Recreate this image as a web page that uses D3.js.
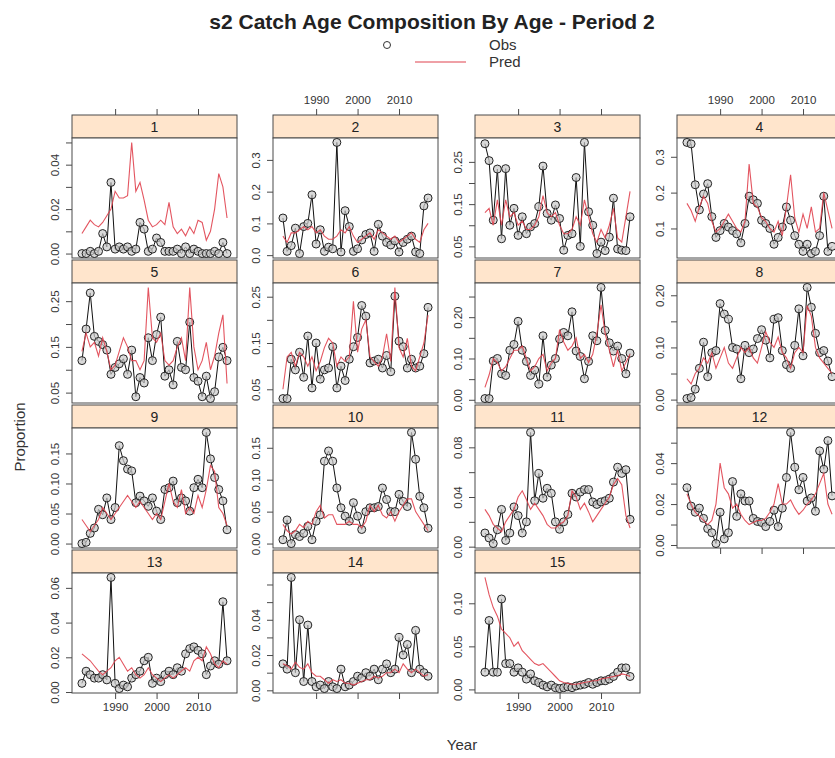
<!DOCTYPE html>
<html><head><meta charset="utf-8">
<script src="https://cdn.jsdelivr.net/npm/d3@7/dist/d3.min.js"></script>
<style>body{margin:0;background:#fff}svg{display:block;font-family:"Liberation Sans",Arial,sans-serif}</style>
</head><body><svg id="c" width="835" height="758"></svg>
<script>
const years = [1982,1983,1984,1985,1986,1987,1988,1989,1990,1991,1992,1993,1994,1995,1996,1997,1998,1999,2000,2001,2002,2003,2004,2005,2006,2007,2008,2009,2010,2011,2012,2013,2014,2015,2016,2017];
const ages = ["1","2","3","4","5","6","7","8","9","10","11","12","13","14","15"];
const xTicks = [1990, 2000, 2010];
const xLabels = ["1990", "2000", "2010"];

const obs1 = [0.000,0.000,0.001,0.000,0.001,0.009,0.003,0.032,0.002,0.003,0.002,0.003,0.001,0.002,0.014,0.011,0.001,0.002,0.007,0.005,0.001,0.001,0.001,0.002,0.000,0.003,0.000,0.002,0.001,0.000,0.000,0.000,0.001,0.000,0.005,0.000];
const pred1 = [0.009,0.012,0.015,0.013,0.012,0.014,0.017,0.020,0.028,0.025,0.025,0.026,0.050,0.028,0.032,0.024,0.015,0.012,0.013,0.015,0.013,0.023,0.012,0.009,0.011,0.008,0.012,0.009,0.015,0.014,0.006,0.010,0.020,0.036,0.030,0.016];
const obs2 = [0.117,0.012,0.030,0.085,0.005,0.090,0.100,0.190,0.035,0.080,0.012,0.025,0.020,0.355,0.010,0.140,0.090,0.012,0.020,0.048,0.065,0.070,0.012,0.097,0.060,0.040,0.032,0.045,0.010,0.040,0.050,0.060,0.010,0.005,0.155,0.180];
const pred2 = [0.06,0.04,0.07,0.07,0.08,0.09,0.08,0.09,0.07,0.08,0.06,0.05,0.05,0.06,0.08,0.07,0.09,0.06,0.04,0.05,0.06,0.07,0.05,0.08,0.07,0.06,0.05,0.06,0.04,0.05,0.06,0.07,0.05,0.04,0.08,0.10];
const obs3 = [0.293,0.253,0.112,0.233,0.068,0.234,0.100,0.140,0.076,0.120,0.080,0.096,0.104,0.144,0.240,0.128,0.112,0.148,0.116,0.041,0.076,0.080,0.213,0.050,0.296,0.132,0.100,0.033,0.060,0.040,0.072,0.164,0.044,0.041,0.040,0.120];
const pred3 = [0.13,0.14,0.10,0.16,0.10,0.16,0.12,0.13,0.10,0.11,0.09,0.09,0.10,0.12,0.17,0.13,0.12,0.13,0.10,0.08,0.08,0.09,0.12,0.10,0.16,0.12,0.08,0.06,0.09,0.07,0.10,0.14,0.07,0.06,0.12,0.18];
const obs4 = [0.340,0.336,0.222,0.152,0.196,0.225,0.133,0.075,0.094,0.114,0.104,0.094,0.085,0.060,0.114,0.190,0.180,0.170,0.123,0.114,0.100,0.056,0.075,0.104,0.160,0.123,0.080,0.056,0.036,0.056,0.030,0.036,0.080,0.190,0.036,0.050];
const pred4 = [0.17,0.15,0.12,0.16,0.19,0.17,0.12,0.09,0.10,0.12,0.14,0.12,0.10,0.09,0.12,0.28,0.17,0.16,0.13,0.12,0.10,0.09,0.12,0.08,0.16,0.25,0.13,0.09,0.14,0.10,0.16,0.09,0.10,0.20,0.15,0.10];
const obs5 = [0.120,0.189,0.268,0.173,0.162,0.155,0.143,0.090,0.105,0.113,0.124,0.090,0.143,0.041,0.083,0.071,0.170,0.120,0.177,0.215,0.086,0.100,0.067,0.162,0.105,0.100,0.204,0.083,0.075,0.041,0.086,0.037,0.052,0.128,0.149,0.120];
const pred5 = [0.14,0.18,0.15,0.16,0.13,0.17,0.14,0.10,0.11,0.14,0.17,0.15,0.12,0.12,0.10,0.12,0.28,0.17,0.16,0.18,0.12,0.11,0.12,0.15,0.17,0.12,0.28,0.15,0.10,0.12,0.16,0.10,0.13,0.18,0.22,0.07];
const obs6 = [0.030,0.030,0.115,0.092,0.130,0.076,0.165,0.053,0.150,0.072,0.092,0.096,0.142,0.053,0.100,0.069,0.115,0.142,0.162,0.231,0.208,0.107,0.111,0.115,0.096,0.123,0.088,0.251,0.154,0.142,0.096,0.115,0.096,0.100,0.127,0.227];
const pred6 = [0.05,0.12,0.13,0.10,0.13,0.12,0.10,0.12,0.09,0.11,0.14,0.16,0.15,0.10,0.12,0.11,0.12,0.24,0.13,0.18,0.20,0.12,0.11,0.10,0.12,0.17,0.11,0.27,0.14,0.12,0.16,0.10,0.09,0.12,0.15,0.21];
const obs7 = [0.003,0.003,0.094,0.100,0.063,0.059,0.120,0.134,0.190,0.120,0.093,0.059,0.072,0.038,0.155,0.055,0.084,0.100,0.147,0.163,0.155,0.213,0.118,0.105,0.051,0.093,0.155,0.143,0.272,0.168,0.138,0.118,0.130,0.100,0.063,0.113];
const pred7 = [0.03,0.06,0.10,0.09,0.07,0.08,0.10,0.12,0.12,0.13,0.10,0.07,0.08,0.10,0.11,0.07,0.09,0.10,0.17,0.14,0.12,0.13,0.15,0.10,0.11,0.09,0.11,0.16,0.23,0.16,0.12,0.08,0.12,0.07,0.09,0.11];
const obs8 = [0.002,0.004,0.020,0.060,0.110,0.044,0.090,0.094,0.184,0.164,0.154,0.100,0.097,0.040,0.104,0.090,0.097,0.117,0.134,0.114,0.080,0.154,0.157,0.094,0.067,0.060,0.104,0.174,0.084,0.215,0.177,0.127,0.090,0.094,0.074,0.044];
const pred8 = [0.04,0.03,0.05,0.06,0.08,0.07,0.09,0.06,0.08,0.10,0.07,0.06,0.08,0.10,0.09,0.10,0.08,0.07,0.10,0.13,0.11,0.10,0.12,0.09,0.08,0.06,0.09,0.10,0.09,0.18,0.16,0.10,0.08,0.07,0.06,0.05];
const obs9 = [0.000,0.002,0.017,0.026,0.057,0.048,0.076,0.040,0.060,0.163,0.138,0.124,0.121,0.068,0.079,0.071,0.062,0.076,0.054,0.040,0.090,0.093,0.104,0.068,0.076,0.071,0.054,0.093,0.107,0.093,0.185,0.141,0.110,0.090,0.071,0.023];
const pred9 = [0.04,0.03,0.02,0.03,0.04,0.06,0.05,0.04,0.05,0.06,0.07,0.08,0.07,0.06,0.07,0.06,0.05,0.04,0.05,0.04,0.07,0.10,0.07,0.06,0.09,0.05,0.06,0.05,0.08,0.06,0.09,0.13,0.12,0.06,0.05,0.03];
const obs10 = [0.006,0.037,0.000,0.014,0.011,0.016,0.027,0.006,0.035,0.045,0.129,0.145,0.129,0.087,0.056,0.043,0.035,0.064,0.043,0.022,0.050,0.056,0.056,0.058,0.087,0.069,0.050,0.050,0.077,0.066,0.058,0.174,0.132,0.074,0.056,0.024];
const pred10 = [0.03,0.02,0.015,0.02,0.03,0.025,0.035,0.03,0.05,0.06,0.04,0.045,0.045,0.03,0.03,0.03,0.035,0.03,0.03,0.025,0.035,0.06,0.05,0.06,0.045,0.04,0.05,0.035,0.05,0.06,0.07,0.07,0.05,0.04,0.03,0.02];
const obs11 = [0.011,0.007,0.0025,0.0136,0.030,0.005,0.011,0.032,0.025,0.011,0.020,0.092,0.037,0.059,0.039,0.047,0.043,0.020,0.014,0.020,0.026,0.043,0.040,0.044,0.046,0.046,0.036,0.034,0.036,0.037,0.039,0.052,0.064,0.059,0.062,0.022];
const pred11 = [0.03,0.025,0.018,0.015,0.012,0.02,0.025,0.03,0.04,0.045,0.038,0.03,0.035,0.03,0.025,0.018,0.015,0.015,0.018,0.02,0.025,0.045,0.04,0.03,0.035,0.028,0.02,0.025,0.03,0.035,0.04,0.05,0.055,0.05,0.025,0.015];
const obs12 = [0.028,0.019,0.016,0.018,0.013,0.008,0.006,0.0007,0.016,0.003,0.006,0.031,0.014,0.025,0.0215,0.0215,0.013,0.0115,0.011,0.009,0.0115,0.017,0.009,0.018,0.033,0.055,0.038,0.027,0.033,0.0215,0.023,0.0165,0.046,0.037,0.051,0.024];
const pred12 = [0.025,0.02,0.016,0.014,0.012,0.010,0.012,0.02,0.04,0.028,0.025,0.018,0.02,0.015,0.012,0.01,0.011,0.012,0.012,0.013,0.016,0.02,0.03,0.02,0.02,0.022,0.018,0.015,0.017,0.02,0.022,0.025,0.03,0.035,0.02,0.015];
const obs13 = [0.005,0.012,0.010,0.008,0.008,0.010,0.007,0.066,0.005,0.002,0.004,0.003,0.008,0.010,0.012,0.018,0.020,0.005,0.008,0.006,0.010,0.012,0.010,0.014,0.012,0.022,0.025,0.026,0.024,0.022,0.010,0.015,0.018,0.016,0.052,0.018];
const pred13 = [0.022,0.020,0.018,0.015,0.012,0.010,0.012,0.014,0.018,0.020,0.016,0.012,0.014,0.010,0.008,0.010,0.014,0.010,0.008,0.006,0.008,0.010,0.008,0.010,0.012,0.014,0.012,0.018,0.020,0.018,0.026,0.022,0.016,0.014,0.018,0.016];
const obs14 = [0.015,0.012,0.064,0.010,0.040,0.005,0.037,0.005,0.002,0.003,0.001,0.005,0.002,0.001,0.012,0.002,0.003,0.005,0.008,0.007,0.010,0.008,0.012,0.006,0.012,0.015,0.010,0.012,0.030,0.020,0.026,0.010,0.034,0.012,0.010,0.008];
const pred14 = [0.015,0.014,0.012,0.016,0.013,0.012,0.015,0.010,0.008,0.008,0.006,0.004,0.006,0.005,0.006,0.004,0.004,0.003,0.004,0.005,0.006,0.006,0.008,0.007,0.008,0.010,0.010,0.012,0.010,0.015,0.012,0.010,0.012,0.010,0.008,0.009];
const obs15 = [0.020,0.080,0.020,0.020,0.105,0.030,0.030,0.020,0.025,0.020,0.012,0.018,0.010,0.008,0.005,0.003,0.005,0.002,0.001,0.002,0.003,0.002,0.004,0.005,0.006,0.008,0.006,0.008,0.010,0.010,0.012,0.015,0.020,0.025,0.025,0.015];
const pred15 = [0.130,0.110,0.095,0.085,0.070,0.065,0.060,0.050,0.055,0.045,0.040,0.035,0.030,0.028,0.030,0.025,0.020,0.015,0.010,0.008,0.007,0.006,0.006,0.007,0.008,0.009,0.010,0.010,0.012,0.013,0.014,0.015,0.016,0.018,0.017,0.015];

const yTicks = [
  [0,0.01,0.02,0.03,0.04,0.05],
  [0,0.1,0.2,0.3],
  [0.05,0.10,0.15,0.20,0.25],
  [0.1,0.2,0.3],
  [0.05,0.10,0.15,0.20,0.25],
  [0.05,0.10,0.15,0.20,0.25],
  [0,0.05,0.10,0.15,0.20,0.25],
  [0,0.05,0.10,0.15,0.20],
  [0,0.05,0.10,0.15],
  [0,0.05,0.10,0.15],
  [0,0.02,0.04,0.06,0.08],
  [0,0.01,0.02,0.03,0.04,0.05],
  [0,0.02,0.04,0.06],
  [0,0.01,0.02,0.03,0.04,0.05,0.06],
  [0,0.05,0.10]
];
const yLabels = [
  ["0.00","","0.02","","0.04",""],
  ["0.0","0.1","0.2","0.3"],
  ["0.05","","0.15","","0.25"],
  ["0.1","0.2","0.3"],
  ["0.05","","0.15","","0.25"],
  ["0.05","","0.15","","0.25"],
  ["0.00","","0.10","","0.20",""],
  ["0.00","","0.10","","0.20"],
  ["0.00","0.05","0.10","0.15"],
  ["0.00","0.05","0.10","0.15"],
  ["0.00","","0.04","","0.08"],
  ["0.00","","0.02","","0.04",""],
  ["0.00","0.02","0.04","0.06"],
  ["0.00","","0.02","","0.04","",""],
  ["0.00","0.05","0.10"]
];

const obsAll = [obs1,obs2,obs3,obs4,obs5,obs6,obs7,obs8,obs9,obs10,obs11,obs12,obs13,obs14,obs15];
const predAll = [pred1,pred2,pred3,pred4,pred5,pred6,pred7,pred8,pred9,pred10,pred11,pred12,pred13,pred14,pred15];

// layout
const colLeft = [72, 273, 475, 677];
const rowTop = [115, 260, 405, 550];
const PW = 165, SH = 23, PH = 120;
const nCols = 4;
const xDomain = [1979.6, 2019.4];

const svg = d3.select("#c");
const defs = svg.append("defs");
const PRED_COL = "#e0424f";
const FRAME = "#4a4a4a";
const FONT = "'Liberation Sans',Arial,sans-serif";

const x = d3.scaleLinear().domain(xDomain).range([0, PW]);

ages.forEach((age, i) => {
  const col = i % nCols, row = Math.floor(i / nCols);
  const g = svg.append("g").attr("transform", `translate(${colLeft[col]},${rowTop[row]})`);
  const obs = obsAll[i], pred = predAll[i];
  const ext = d3.extent(obs.concat(pred));
  const pad = (ext[1] - ext[0]) * 0.04;
  const y = d3.scaleLinear().domain([ext[0] - pad, ext[1] + pad]).range([SH + PH, SH]);

  const cid = "clip" + i;
  defs.append("clipPath").attr("id", cid).append("rect").attr("x", 0).attr("y", SH).attr("width", PW).attr("height", PH);

  g.append("rect").attr("x", 0).attr("y", 0).attr("width", PW).attr("height", SH)
    .attr("fill", "#ffe5cc").attr("stroke", FRAME).attr("stroke-width", 1);
  g.append("text").attr("x", PW / 2).attr("y", SH / 2 + 5).attr("text-anchor", "middle")
    .attr("font-size", 14).attr("fill", "#222").text(age);

  g.append("rect").attr("x", 0).attr("y", SH).attr("width", PW).attr("height", PH)
    .attr("fill", "#fff").attr("stroke", FRAME).attr("stroke-width", 1);

  const plot = g.append("g").attr("clip-path", `url(#${cid})`);
  const pts = years.map((yr, k) => [yr, obs[k]]);
  const ppts = years.map((yr, k) => [yr, pred[k]]);
  const line = d3.line().x(d => x(d[0])).y(d => y(d[1]));
  plot.append("path").attr("d", line(pts)).attr("fill", "none").attr("stroke", "#111").attr("stroke-width", 1);
  plot.selectAll("circle").data(pts).join("circle")
    .attr("cx", d => x(d[0])).attr("cy", d => y(d[1])).attr("r", 4)
    .attr("fill", "#c9c9c9").attr("fill-opacity", 0.7).attr("stroke", "#222").attr("stroke-width", 1);
  plot.append("path").attr("d", line(ppts)).attr("fill", "none").attr("stroke", PRED_COL).attr("stroke-width", 1.1).attr("stroke-opacity", 0.9);

  const labs = yLabels[i];
  const ya = g.append("g")
    .call(d3.axisLeft(y).tickValues(yTicks[i]).tickSize(6).tickFormat((d, k) => labs[k]));
  ya.select(".domain").remove();
  ya.selectAll(".tick line").attr("stroke", FRAME);
  ya.selectAll(".tick text")
    .attr("x", null).attr("dy", null).attr("y", null)
    .attr("text-anchor", "middle")
    .attr("transform", "translate(-13,0) rotate(-90)")
    .attr("font-size", 11.5).attr("fill", "#333").attr("font-family", FONT);

  if (row === 0) {
    const xt = g.append("g").call(d3.axisTop(x).tickValues(xTicks).tickSize(6)
      .tickFormat((d, k) => (col % 2 === 1 ? xLabels[k] : "")));
    xt.select(".domain").remove();
    xt.selectAll(".tick line").attr("stroke", FRAME);
    xt.selectAll(".tick text").attr("font-size", 11.5).attr("fill", "#333")
      .attr("font-family", FONT).attr("y", -11);
  }
  const isBottom = (i + nCols) >= ages.length;
  if (isBottom) {
    const xb = g.append("g").attr("transform", `translate(0,${SH + PH})`)
      .call(d3.axisBottom(x).tickValues(xTicks).tickSize(6)
      .tickFormat((d, k) => (col % 2 === 0 && row === 3 ? xLabels[k] : "")));
    xb.select(".domain").remove();
    xb.selectAll(".tick line").attr("stroke", FRAME);
    xb.selectAll(".tick text").attr("font-size", 11.5).attr("fill", "#333")
      .attr("font-family", FONT).attr("y", 10);
  }
});

svg.append("text").attr("x", 432).attr("y", 29).attr("text-anchor", "middle")
  .attr("font-size", 21).attr("font-weight", "bold").attr("fill", "#222")
  .text("s2 Catch Age Composition By Age - Period 2");
svg.append("circle").attr("cx", 387).attr("cy", 45).attr("r", 3.5)
  .attr("fill", "none").attr("stroke", "#333");
svg.append("text").attr("x", 489).attr("y", 50).attr("font-size", 15).attr("fill", "#333").text("Obs");
svg.append("line").attr("x1", 415).attr("x2", 466).attr("y1", 62).attr("y2", 62)
  .attr("stroke", PRED_COL).attr("stroke-width", 1.2);
svg.append("text").attr("x", 489).attr("y", 67).attr("font-size", 15).attr("fill", "#333").text("Pred");
svg.append("text").attr("x", 462).attr("y", 750).attr("text-anchor", "middle")
  .attr("font-size", 15).attr("fill", "#333").text("Year");
svg.append("text").attr("transform", "translate(25,437) rotate(-90)").attr("text-anchor", "middle")
  .attr("font-size", 15).attr("fill", "#333").text("Proportion");
</script></body></html>
